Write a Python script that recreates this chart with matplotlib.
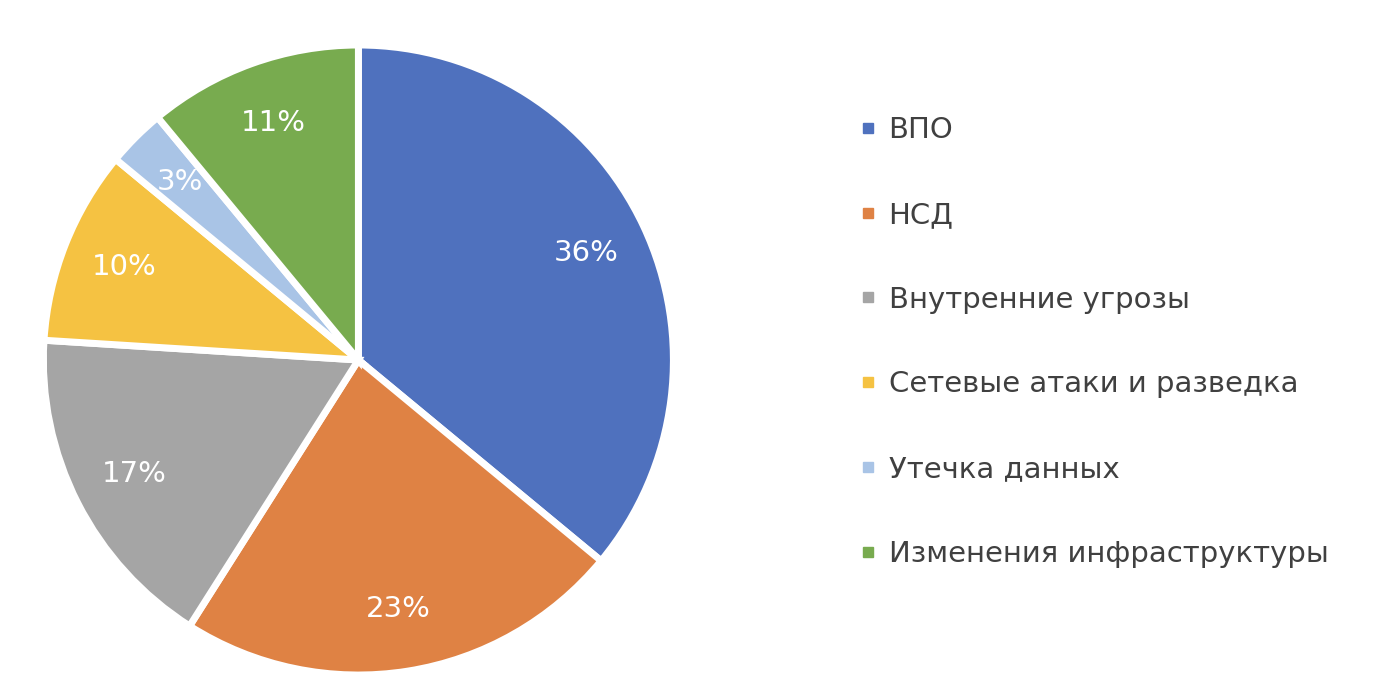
import matplotlib
matplotlib.use("Agg")
import matplotlib.pyplot as plt
from matplotlib.lines import Line2D

labels = ["ВПО", "НСД", "Внутренние угрозы", "Сетевые атаки и разведка", "Утечка данных", "Изменения инфраструктуры"]
values = [36, 23, 17, 10, 3, 11]
colors = ["#4f71be", "#df8244", "#a5a5a5", "#f5c242", "#a9c4e6", "#78ab4f"]

fig = plt.figure(figsize=(14, 6.91), dpi=100)
ax = fig.add_axes([0.256 - 0.225, 0.479 - 0.456, 0.45, 0.912])
wedges, texts, autotexts = ax.pie(values, colors=colors, startangle=90, counterclock=False,
       autopct=lambda p: f"{p:.0f}%", pctdistance=0.8,
       wedgeprops=dict(edgecolor="white", linewidth=5),
       textprops=dict(color="white", fontsize=21))
ax.set_aspect("equal")
ax.set_xlim(-1.0, 1.0)
ax.set_ylim(-1.0, 1.0)

handles = [Line2D([], [], marker="s", linestyle="", markersize=7, color=c) for c in colors]
leg = fig.legend(handles, labels, loc="center left", bbox_to_anchor=(0.593, 0.505), frameon=False,
                 fontsize=21, labelspacing=1.95, handletextpad=0.3, handlelength=0.8)
for t in leg.get_texts():
    t.set_color("#404040")
fig.savefig("out.png", dpi=100)
